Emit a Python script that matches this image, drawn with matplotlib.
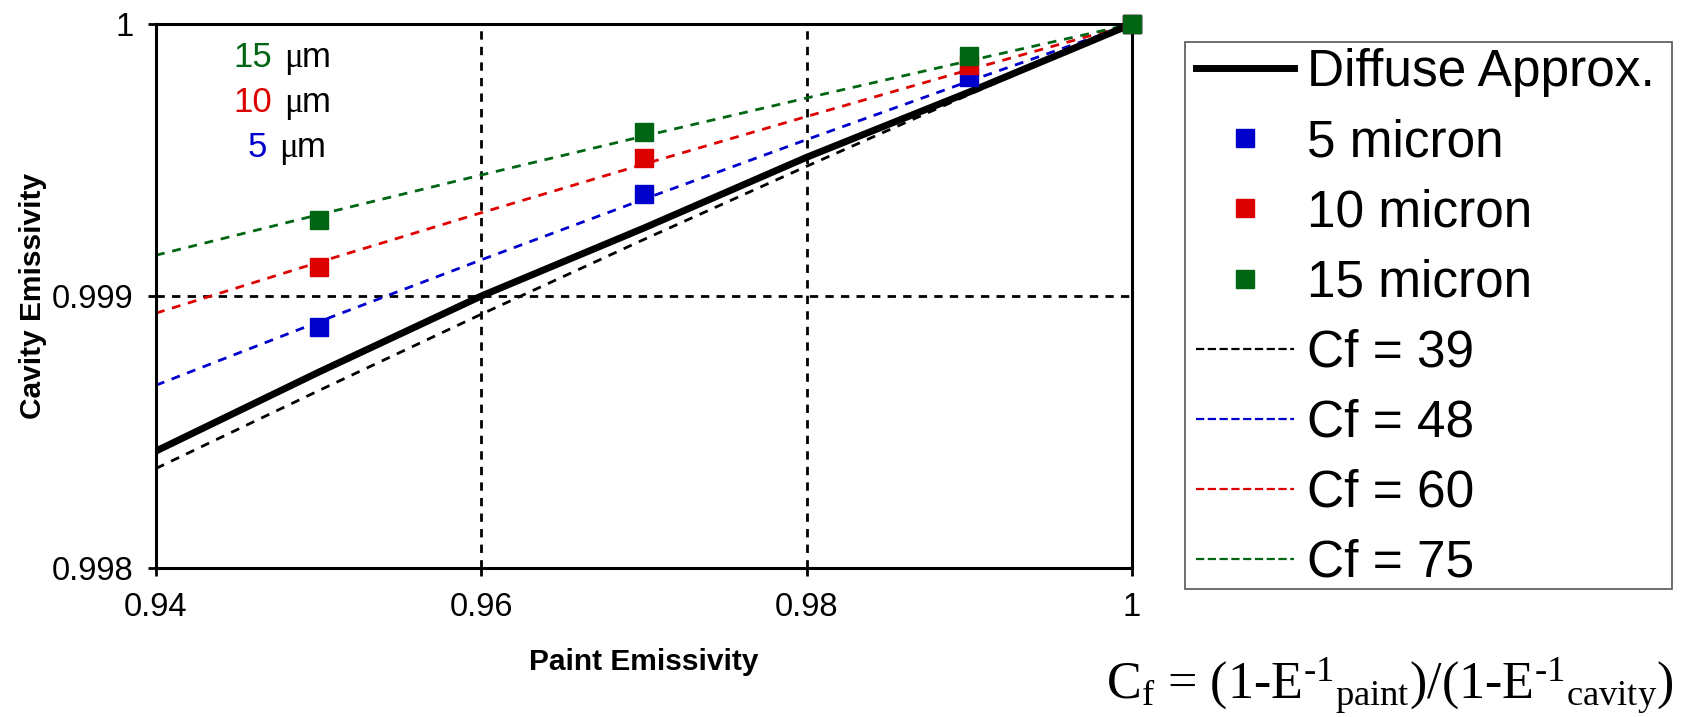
import matplotlib
matplotlib.use("Agg")
import matplotlib.pyplot as plt
from matplotlib.lines import Line2D
from matplotlib.patches import Rectangle

# ---- data -------------------------------------------------------------
paint_emissivity = [0.94, 0.95, 0.96, 0.97, 0.98, 0.99, 1.00]
diffuse_approx = [0.99843, 0.99872, 0.99900, 0.99925, 0.99951, 0.99975, 1.0]
cf_39 = [0.998366, 0.998652, 0.998933, 0.999208, 0.999477, 0.999741, 1.0]
cf_48 = [0.998672, 0.998905, 0.999133, 0.999356, 0.999575, 0.999790, 1.0]
cf_60 = [0.998937, 0.999124, 0.999306, 0.999485, 0.999660, 0.999832, 1.0]
cf_75 = [0.999150, 0.999299, 0.999445, 0.999588, 0.999728, 0.999865, 1.0]

measured_paint = [0.95, 0.97, 0.99, 1.00]
micron_5 = [0.998885, 0.999374, 0.999805, 1.0]
micron_10 = [0.999108, 0.999506, 0.999850, 1.0]
micron_15 = [0.999279, 0.999604, 0.999882, 1.0]

x_ticks = [0.94, 0.96, 0.98, 1.00]
x_tick_labels = ["0.94", "0.96", "0.98", "1"]
y_ticks = [0.998, 0.999, 1.000]
y_tick_labels = ["0.998", "0.999", "1"]

# ---- styling ----------------------------------------------------------
SANS = "Liberation Sans"
SERIF = "Liberation Serif"
BLUE = "#0000cc"
RED = "#dd0000"
GREEN = "#006614"

plt.rcParams["font.family"] = [SANS, "DejaVu Sans"]
plt.rcParams["mathtext.fontset"] = "custom"
plt.rcParams["mathtext.rm"] = SERIF
plt.rcParams["mathtext.it"] = SERIF + ":italic"

W, H = 1688, 717
fig = plt.figure(figsize=(W / 100, H / 100), dpi=100)


def fx(px):
    return px / W


def fy(py):
    return 1 - py / H


ax = fig.add_axes([fx(156), fy(568), fx(1132) - fx(156), fy(24) - fy(568)])

dash = (0, (3.2, 2.8))
lw_cf = 2.0

ax.plot(paint_emissivity, cf_39, color="black", lw=lw_cf, ls=dash, zorder=2, label="Cf = 39")
ax.plot(paint_emissivity, cf_48, color=BLUE, lw=lw_cf, ls=dash, zorder=2, label="Cf = 48")
ax.plot(paint_emissivity, cf_60, color=RED, lw=lw_cf, ls=dash, zorder=2, label="Cf = 60")
ax.plot(paint_emissivity, cf_75, color=GREEN, lw=lw_cf, ls=dash, zorder=2, label="Cf = 75")
ax.plot(paint_emissivity, diffuse_approx, color="black", lw=5.0, zorder=3,
        solid_capstyle="butt", label="Diffuse Approx.")

msize = 12.5
ax.plot(measured_paint, micron_5, ls="none", marker="s", ms=msize, color=BLUE,
        mec=BLUE, zorder=4, clip_on=False, label="5 micron")
ax.plot(measured_paint, micron_10, ls="none", marker="s", ms=msize, color=RED,
        mec=RED, zorder=5, clip_on=False, label="10 micron")
ax.plot(measured_paint, micron_15, ls="none", marker="s", ms=msize, color=GREEN,
        mec=GREEN, zorder=6, clip_on=False, label="15 micron")

ax.set_xlim(0.94, 1.0)
ax.set_ylim(0.998, 1.0)
ax.set_xticks(x_ticks)
ax.set_xticklabels(x_tick_labels)
ax.set_yticks(y_ticks)
ax.set_yticklabels(y_tick_labels)

# dashed reference grid at the interior ticks
for xv in x_ticks[1:-1]:
    ax.axvline(xv, color="black", lw=2.0, ls=(0, (3.0, 2.6)), zorder=1)
for yv in y_ticks[1:-1]:
    ax.axhline(yv, color="black", lw=2.0, ls=(0, (3.0, 2.6)), zorder=1)

for sp in ax.spines.values():
    sp.set_linewidth(2.2)
    sp.set_color("black")
    sp.set_zorder(3.5)

ax.tick_params(axis="both", direction="out", length=6, width=2.0,
               labelsize=23.5, colors="black")
ax.tick_params(axis="x", pad=11)
ax.tick_params(axis="y", pad=10)

fig.text(fx(644), fy(670), "Paint Emissivity", ha="center", va="baseline",
         fontsize=21.5, fontweight="bold", family=SANS)
fig.text(fx(33), fy(296), "Cavity Emissivity", ha="center", va="center",
         rotation=90, fontsize=21.5, fontweight="bold", family=SANS)

# thickness annotations inside the plot
for num, color, num_right, unit_left, base in [
    ("15", GREEN, 272, 284, 67),
    ("10", RED, 272, 284, 112),
    ("5", BLUE, 267, 279, 157),
]:
    fig.text(fx(num_right), fy(base), num, color=color, fontsize=25,
             ha="right", va="baseline", family=SANS)
    fig.text(fx(unit_left), fy(base), "\u03bc", color="black", fontsize=25,
             ha="left", va="baseline", family=SERIF)
    fig.text(fx(unit_left + 18), fy(base), "m", color="black", fontsize=25,
             ha="left", va="baseline", family=SANS)

# legend
order = ["Diffuse Approx.", "5 micron", "10 micron", "15 micron",
         "Cf = 39", "Cf = 48", "Cf = 60", "Cf = 75"]
handles, labels = ax.get_legend_handles_labels()
lookup = dict(zip(labels, handles))
leg_handles = []
for name in order:
    h = lookup[name]
    nh = Line2D([], [], color=h.get_color(), lw=h.get_linewidth(),
                ls=h.get_linestyle(), marker=h.get_marker(),
                ms=12.5, mec=h.get_markeredgecolor(), mfc=h.get_markerfacecolor())
    if name == "Diffuse Approx.":
        nh.set_linewidth(5.0)
    if name.startswith("Cf"):
        nh.set_linewidth(1.6)
    leg_handles.append(nh)

leg = fig.legend(leg_handles, order, loc="upper left",
                 bbox_to_anchor=(fx(1185), fy(37)), bbox_transform=fig.transFigure,
                 fontsize=37, frameon=False,
                 borderpad=0.22, labelspacing=0.41, handlelength=1.9,
                 handletextpad=0.25, borderaxespad=0.0)

fig.add_artist(Rectangle((fx(1185), fy(589)), fx(1672) - fx(1185), fy(42) - fy(589),
                         transform=fig.transFigure, fill=False,
                         edgecolor="#555555", lw=1.2))

# defining relation for the correction factor
fig.text(fx(1106), fy(699),
         r"C$_{\mathrm{f}}$ = (1-E$^{\mathrm{\text{-}1}}$$_{\mathrm{paint}}$)/(1-E$^{\mathrm{\text{-}1}}$$_{\mathrm{cavity}}$)",
         fontsize=37.5, family=SERIF, ha="left", va="baseline")

fig.savefig("out.png", dpi=100)
